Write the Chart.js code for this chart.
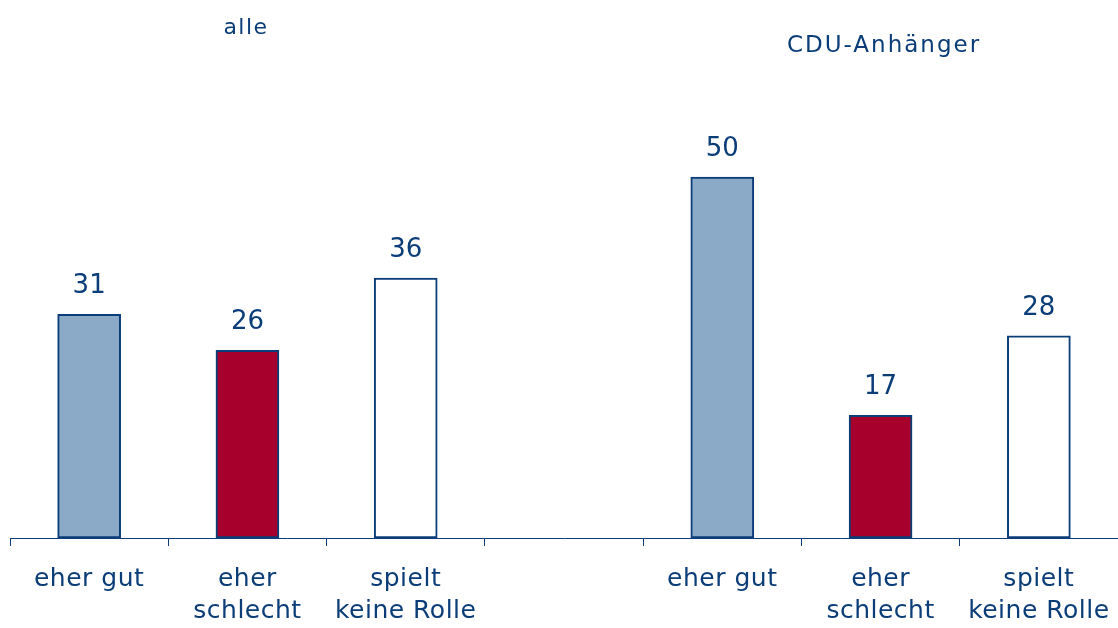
<!DOCTYPE html>
<html>
<head>
<meta charset="utf-8">
<script src="https://cdn.jsdelivr.net/npm/chart.js@4"></script>
<style>
  html, body { margin: 0; padding: 0; background: #fff; overflow: hidden; }
  #wrap { width: 1118px; height: 628px; position: relative; }
</style>
</head>
<body>
<div id="wrap"><canvas id="chart"></canvas></div>
<script>
// categories (empty slot separates the two groups)
const categories = [
    'eher gut', ['eher', 'schlecht'], ['spielt', 'keine Rolle'],
    '',
    'eher gut', ['eher', 'schlecht'], ['spielt', 'keine Rolle']
];
const values = [31, 26, 36, null, 50, 17, 28];
const groupTitles = ['alle', 'CDU-Anhänger'];

const textColor = '#0b3d78';
const fills = ['#8aaac8', '#a8002c', '#ffffff', '#ffffff', '#8aaac8', '#a8002c', '#ffffff'];
const fontFamily = '"DejaVu Sans", Verdana, sans-serif';

// slightly wider letter spacing, like the original rendering
const spacingPlugin = {
    id: 'spacing',
    beforeDraw(chart) {
        chart.ctx.letterSpacing = '0.5px';
    }
};

// value labels above bars + the two group titles
const labelPlugin = {
    id: 'labels',
    afterDatasetsDraw(chart) {
        const ctx = chart.ctx;
        ctx.save();
        ctx.fillStyle = textColor;
        ctx.font = '26px ' + fontFamily;
        ctx.letterSpacing = '0px';
        ctx.textAlign = 'center';
        ctx.textBaseline = 'middle';
        chart.getDatasetMeta(0).data.forEach((bar, i) => {
            if (values[i] == null) return;
            ctx.fillText(values[i], bar.x, bar.y - 28);
        });
        ctx.font = '22px ' + fontFamily;
        ctx.letterSpacing = '1.5px';
        ctx.fillText(groupTitles[0], 246, 28);
        ctx.font = '23px ' + fontFamily;
        ctx.letterSpacing = '2px';
        ctx.fillText(groupTitles[1], 884, 46);
        ctx.restore();
    }
};

const ctx = document.getElementById('chart').getContext('2d');
new Chart(ctx, {
    type: 'bar',
    data: {
        labels: categories,
        datasets: [{
            data: values,
            backgroundColor: fills,
            borderColor: textColor,
            borderWidth: 2,
            borderSkipped: false,
            barThickness: 63
        }]
    },
    options: {
        responsive: true,
        maintainAspectRatio: false,
        animation: false,
        layout: { padding: { left: 10, right: 0, top: 105, bottom: 0 } },
        plugins: {
            legend: { display: false },
            tooltip: { enabled: false }
        },
        scales: {
            x: {
                offset: true,
                afterFit(scale) {
                    scale.height = 90;
                    scale.paddingLeft = 0;
                    scale.paddingRight = -2;
                },
                grid: {
                    offset: true,
                    drawOnChartArea: false,
                    drawTicks: true,
                    tickLength: 8,
                    color: textColor,
                    lineWidth: 1
                },
                border: { display: true, color: textColor, width: 1 },
                ticks: {
                    color: textColor,
                    font: { family: fontFamily, size: 25, lineHeight: 1.3 },
                    padding: 17,
                    maxRotation: 0,
                    autoSkip: false
                }
            },
            y: {
                display: false,
                min: 0,
                max: 60
            }
        }
    },
    plugins: [spacingPlugin, labelPlugin]
});
</script>
</body>
</html>
